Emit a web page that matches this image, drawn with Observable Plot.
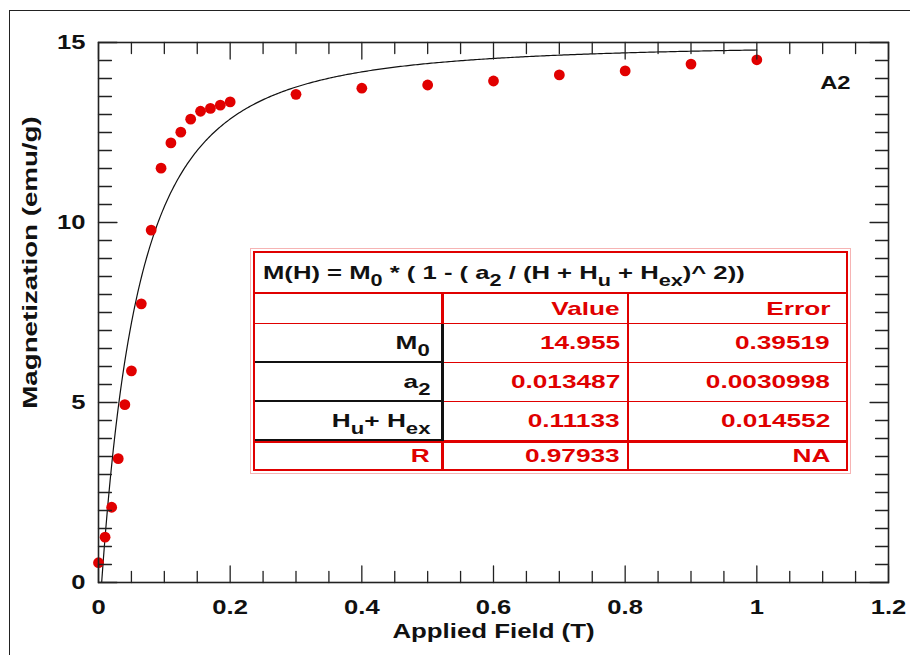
<!DOCTYPE html>
<html>
<head>
<meta charset="utf-8">
<script src="https://cdn.jsdelivr.net/npm/d3@7"></script>
<script src="https://cdn.jsdelivr.net/npm/@observablehq/plot@0.6"></script>
<style>
  html, body { margin: 0; padding: 0; background: #fff; overflow: hidden; }
  #wrap { position: relative; width: 910px; height: 655px; overflow: hidden; background: #fff;
          font-family: "Liberation Sans", Arial, sans-serif; }
  #wrap svg { position: absolute; left: 0; top: 0; }
  .page-border { position: absolute; left: 9px; top: 10px; width: 1200px; height: 1200px;
                 border-left: 1.5px solid #222; border-top: 1.5px solid #222; pointer-events: none; }
  .fit { position: absolute; left: 253px; top: 251px; width: 595px; height: 220px; box-sizing: border-box;
         border: 2px solid #e00000; outline: 1px solid #f6b4b4; outline-offset: 2px; background: #fff;
         display: grid; grid-template-columns: 189px 185px 1fr; grid-template-rows: 41px 30px 39px 39px 39px 1fr;
         font-weight: bold; font-size: 19px; }
  .fit > div { box-sizing: border-box; display: flex; align-items: center; justify-content: flex-end;
               white-space: nowrap; }
  .fit .eq { grid-column: 1 / span 3; justify-content: flex-start; padding-left: 8px; color: #111;
             border-bottom: 2.5px solid #e00000; }
  .fit .eq span { transform-origin: left center; }
  .fit span { display: inline-block; transform: scaleX(1.38); transform-origin: right center; }
  .fit .eq span { transform: scaleX(1.35); }
  .fit sub { font-size: 16px; vertical-align: -7px; line-height: 0; }
  .c1 { padding-right: 11px; color: #111; border-right: 3px solid #111; }
  .c2 { padding-right: 7px; color: #e00000; border-right: 2px solid #e00000; }
  .c3 { padding-right: 16px; color: #e00000; }
  .hdr { border-bottom: 1.5px solid #e00000; }
  .hdr.c1, .last.c1 { border-right-color: #e00000; }
  .mid { border-bottom: 1.5px solid #e00000; }
  .mid.c1 { border-bottom: 2px solid #111; }
  .last { border-top: 2px solid #e00000; }
  .last.c1 { color: #e00000; }
</style>
</head>
<body>
<div id="wrap"></div>
<script>
// Measured magnetization versus applied field
const fieldT = [0, 0.01, 0.02, 0.03, 0.04, 0.05, 0.065, 0.08, 0.095, 0.11, 0.125, 0.14, 0.155, 0.17,
                0.185, 0.2, 0.3, 0.4, 0.5, 0.6, 0.7, 0.8, 0.9, 1.0];
const magnetization = [0.55, 1.26, 2.09, 3.44, 4.94, 5.88, 7.74, 9.79, 11.51, 12.21, 12.51, 12.87, 13.09, 13.17,
                       13.26, 13.35, 13.56, 13.73, 13.82, 13.93, 14.10, 14.21, 14.40, 14.52];

// Fit results: M(H) = M0 * (1 - a2 / (H + Hu + Hex)^2)
const paramLabels = ["M<sub>0</sub>", "a<sub>2</sub>", "H<sub>u</sub>+ H<sub>ex</sub>", "R"];
const paramValues = ["14.955", "0.013487", "0.11133", "0.97933"];
const paramErrors = ["0.39519", "0.0030998", "0.014552", "NA"];

// Axis ticks and labels
const xTicks = [0, 0.2, 0.4, 0.6, 0.8, 1, 1.2];
const xTickLabels = ["0", "0.2", "0.4", "0.6", "0.8", "1", "1.2"];
const yTicks = [0, 5, 10, 15];
const yTickLabels = ["0", "5", "10", "15"];
const xMinorTicks = d3.range(0, 25).map(i => i * 0.05);
const yMinorTicks = d3.range(0, 31).map(i => i * 0.5);
const xTitle = "Applied Field (T)";
const yTitle = "Magnetization (emu/g)";
const sampleName = "A2";

const FONT = '"Liberation Sans", Arial, sans-serif';
const RED = "#e10000";

const points = fieldT.map((H, i) => ({H, M: magnetization[i]}));

// Fitted curve evaluated from the reported parameters, from M = 0 up to H = 1 T
const M0 = +paramValues[0], a2 = +paramValues[1], hShift = +paramValues[2];
const hStart = Math.sqrt(a2) - hShift;
const curve = d3.range(0, 401).map(i => {
  const H = hStart + (1 - hStart) * (i / 400) ** 1.5;
  return {H, M: M0 * (1 - a2 / (H + hShift) ** 2)};
});

// Inward tick marks
const tickShape = {draw(context, l) { context.moveTo(0, 0); context.lineTo(0, -l); }};
const isMajorX = d => xTicks.some(t => Math.abs(t - d) < 1e-9);
const isMajorY = d => yTicks.some(t => Math.abs(t - d) < 1e-9);
const tickMarks = (data, opts) => Plot.vector(data, {anchor: "start", shape: tickShape, stroke: "#222",
                                                     strokeWidth: 1.3, ...opts});

const plot = Plot.plot({
  width: 910,
  height: 655,
  marginLeft: 98,
  marginRight: 22,
  marginTop: 42,
  marginBottom: 73,
  style: {fontFamily: FONT, background: "transparent", color: "#111"},
  x: {domain: [0, 1.2], axis: null},
  y: {domain: [0, 15], axis: null},
  marks: [
    Plot.line(curve, {x: "H", y: "M", stroke: "#111", strokeWidth: 1.2}),
    Plot.dot(points, {x: "H", y: "M", r: 5.4, fill: RED}),
    Plot.frame({stroke: "#222", strokeWidth: 1.6}),
    // bottom and top
    tickMarks(xMinorTicks, {x: d => d, y: 0, rotate: 0, length: d => isMajorX(d) ? 9 : 6}),
    tickMarks(xMinorTicks, {x: d => d, y: 15, rotate: 180, length: d => isMajorX(d) ? 9 : 6}),
    // left and right
    tickMarks(yMinorTicks, {x: 0, y: d => d, rotate: 90, length: d => isMajorY(d) ? 10 : 7}),
    tickMarks(yMinorTicks, {x: 1.2, y: d => d, rotate: -90, length: d => isMajorY(d) ? 10 : 7}),
    Plot.axisX({ticks: xTicks, tickFormat: d => xTickLabels[xTicks.indexOf(d)], tickSize: 0, tickPadding: 17,
                fontSize: 20, fontWeight: "bold", label: null}),
    Plot.axisY({ticks: yTicks, tickFormat: d => yTickLabels[yTicks.indexOf(d)], tickSize: 0, tickPadding: 13,
                fontSize: 20, fontWeight: "bold", label: null}),
    Plot.text([xTitle], {frameAnchor: "bottom", dy: 55, fontSize: 21, fontWeight: "bold"}),
    Plot.text([yTitle], {frameAnchor: "left", textAnchor: "middle", rotate: -90, dx: -68, dy: -50,
                         fontSize: 21, fontWeight: "bold"}),
    Plot.text([sampleName], {frameAnchor: "top-right", textAnchor: "end", dx: -38, dy: 33, fontSize: 19,
                             fontWeight: "bold"})
  ]
});

// Widen the bold lettering horizontally, keeping each text's anchor point fixed
const widthScale = new Map([
  ...xTickLabels.map(s => [s, 1.28]),
  ...yTickLabels.map(s => [s, 1.28]),
  [xTitle, 1.23],
  [yTitle, 1.32],
  [sampleName, 1.25]
]);
plot.querySelectorAll("text").forEach(t => {
  const s = widthScale.get(t.textContent.trim());
  if (!s) return;
  const tr = t.getAttribute("transform");
  if (tr) {
    t.setAttribute("transform", `${tr} scale(${s},1)`);
  } else {
    const x = +(t.getAttribute("x") || 0), y = +(t.getAttribute("y") || 0);
    t.removeAttribute("x");
    t.removeAttribute("y");
    t.setAttribute("transform", `translate(${x},${y}) scale(${s},1)`);
  }
});

const wrap = document.getElementById("wrap");
wrap.appendChild(plot);

const border = document.createElement("div");
border.className = "page-border";
wrap.appendChild(border);

// Fit parameter table
const table = document.createElement("div");
table.className = "fit";
let html = `<div class="eq"><span>M(H) = M<sub>0</sub> * ( 1 - ( a<sub>2</sub> / (H + H<sub>u</sub> + H<sub>ex</sub>)^ 2))</span></div>`;
html += `<div class="c1 hdr"></div><div class="c2 hdr"><span>Value</span></div><div class="c3 hdr"><span>Error</span></div>`;
paramLabels.forEach((lab, i) => {
  const cls = i === paramLabels.length - 1 ? "last" : "mid";
  html += `<div class="c1 ${cls}"><span>${lab}</span></div>` +
          `<div class="c2 ${cls}"><span>${paramValues[i]}</span></div>` +
          `<div class="c3 ${cls}"><span>${paramErrors[i]}</span></div>`;
});
table.innerHTML = html;
wrap.appendChild(table);
</script>
</body>
</html>
